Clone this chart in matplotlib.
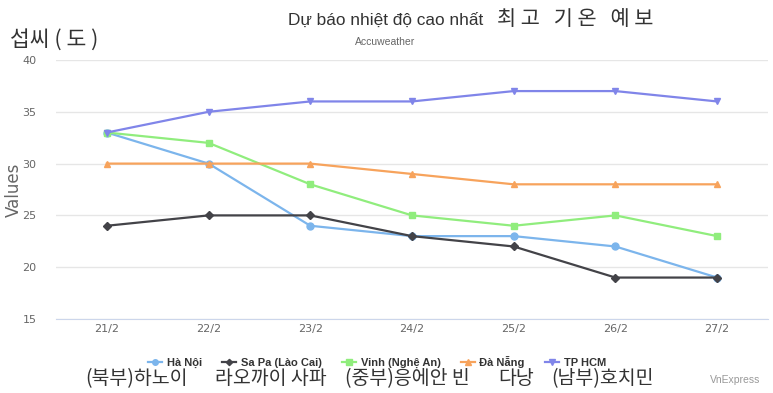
import matplotlib.pyplot as plt
import numpy as np

days = ['21/2', '22/2', '23/2', '24/2', '25/2', '26/2', '27/2']
ha_noi = [33, 30, 24, 23, 23, 22, 19]
sa_pa = [24, 25, 25, 23, 22, 19, 19]
vinh = [33, 32, 28, 25, 24, 25, 23]
da_nang = [30, 30, 30, 29, 28, 28, 28]
tp_hcm = [33, 35, 36, 36, 37, 37, 36]

names = ['Hà Nội', 'Sa Pa (Lào Cai)', 'Vinh (Nghệ An)', 'Đà Nẵng', 'TP HCM']
colors = ['#7cb5ec', '#434348', '#90ed7d', '#f7a35c', '#8085e9']
markers = ['o', 'D', 's', '^', 'v']
msizes = [5, 4, 5, 5, 5]

kr_labels = ['(북부)하노이', '라오까이 사파', '(중부)응에안 빈', '다낭', '(남부)호치민']
kr_x = [85, 215, 345, 498, 551]

narrow = ['Liberation Sans Narrow', 'Liberation Sans', 'DejaVu Sans']
kr = 'Noto Sans CJK KR'

fig = plt.figure(figsize=(7.73, 3.93), dpi=100)
ax = fig.add_axes([56/773, 1-319/393, 712/773, 259/393])

x = np.arange(len(days))
for vals, name, c, m, ms in zip([ha_noi, sa_pa, vinh, da_nang, tp_hcm], names, colors, markers, msizes):
    ax.plot(x, vals, color=c, marker=m, markersize=ms, linewidth=1.6, label=name)

ax.set_xlim(-0.5, 6.5)
ax.set_ylim(15, 40)
ax.set_yticks([15, 20, 25, 30, 35, 40])
ax.set_xticks(x)
ax.set_xticklabels(days)
ax.tick_params(length=0, labelsize=8, labelcolor='#666666')
ax.tick_params(axis='y', pad=14)
ax.grid(axis='y', color='#e6e6e6', linewidth=1)
ax.set_axisbelow(True)
for s in ['top', 'right', 'left']:
    ax.spines[s].set_visible(False)
ax.spines['bottom'].set_color('#ccd6eb')
ax.set_ylabel('Values', fontsize=12, color='#666666')
ax.yaxis.set_label_coords(-33/712, 0.5)

# titles
fig.text(288/773, 1-20/393, 'Dự báo nhiệt độ cao nhất', fontsize=12.4, family=narrow, color='#333333', va='center', ha='left')
fig.text(497/773, 1-19/393, '최 고   기 온   예 보', fontsize=15, family=kr, color='#333333', va='center', ha='left')
fig.text(385/773, 1-42/393, 'Accuweather', fontsize=7.5, family=narrow, color='#666666', va='center', ha='center')
fig.text(10/773, 1-40/393, '섭씨 ( 도 )', fontsize=15.5, family=kr, color='#333333', va='center', ha='left')

leg = fig.legend(loc='center', bbox_to_anchor=(377/773, 1-362/393), ncol=5, frameon=False,
                 handlelength=1.3, columnspacing=1.8, handletextpad=0.4, markerscale=0.8,
                 prop={'family': narrow, 'size': 8, 'weight': 'bold'})
for t in leg.get_texts():
    t.set_color('#333333')

for lab, px in zip(kr_labels, kr_x):
    fig.text(px/773, 1-379/393, lab, fontsize=14, family=kr, color='#333333', va='center', ha='left')
fig.text(760/773, 1-380/393, 'VnExpress', fontsize=7.5, family=narrow, color='#999999', va='center', ha='right')

fig.savefig('out.png', dpi=100)
